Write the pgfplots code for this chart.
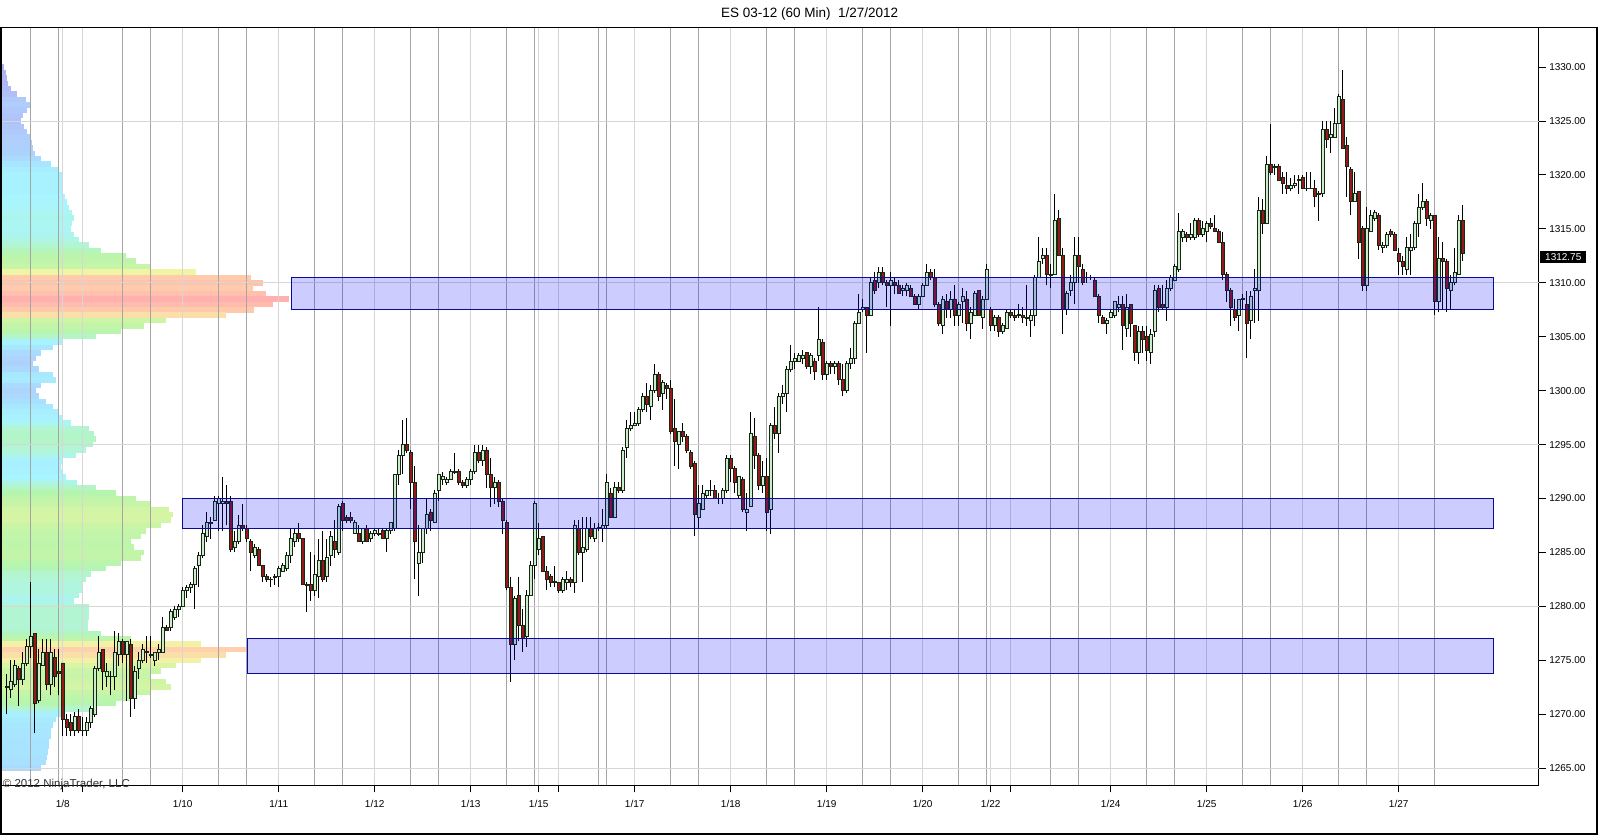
\documentclass[border=0pt]{standalone}
\usepackage{fontspec}
\setmainfont{Liberation Sans}
\usepackage{pgfplots}
\pgfplotsset{compat=1.18}
\usepackage{pgfplotstable}
\definecolor{upfill}{RGB}{205,236,205}
\definecolor{dnfill}{RGB}{150,24,24}
\definecolor{cout}{RGB}{20,40,20}
\definecolor{gridlight}{RGB}{214,214,214}
\definecolor{griddark}{RGB}{165,165,165}
\definecolor{rectline}{RGB}{10,10,150}
\pgfplotstableread{
o h l c
1272.5 1273.75 1270 1272.5
1272.25 1275 1271.5 1273
1272.75 1275 1272.5 1274.5
1274.25 1274.5 1270.75 1273.25
1273.25 1275.75 1272.75 1274.75
1274.75 1277 1274.5 1276.25
1276.25 1282.25 1275.25 1277.25
1277.5 1277.5 1268.25 1271
1271.25 1276 1271 1274.75
1274.5 1277 1274.5 1275.75
1275.75 1277 1272.25 1272.75
1272.75 1277 1271.75 1275.75
1275.25 1276 1272.5 1273.5
1274 1276 1271.75 1273.75
1274.75 1274.75 1268 1269.5
1269.5 1270 1268 1268.75
1269.25 1270 1268 1268.5
1268.5 1270.25 1268 1269.75
1269.75 1270.5 1268.25 1268.5
1268.5 1269.75 1268 1268.5
1268.5 1269.75 1268 1269.25
1269.25 1270.75 1268.75 1270.5
1270 1274.5 1269.75 1274.25
1274.25 1277.25 1274 1275.75
1276 1276 1272.25 1274
1273.5 1274.75 1272.5 1274
1273.5 1274 1271.75 1273.5
1273.5 1277.75 1272.25 1275.75
1275.5 1277.5 1274.5 1276.75
1276.75 1277 1274.75 1275.5
1275.5 1276.75 1271.25 1276.75
1276.5 1277 1269.75 1271.5
1271.5 1274.5 1270.5 1274
1274.25 1275.75 1273.25 1275
1275 1276.5 1274.75 1276
1275.75 1277.25 1274.75 1275.75
1275.5 1277.25 1275.25 1275.5
1275 1275.75 1274.5 1275.75
1275.75 1276.5 1275 1276
1275.75 1279 1275.75 1278
1278 1278.25 1277.75 1277.75
1278 1279.75 1277.75 1279.5
1279 1280 1278.75 1279.75
1279.75 1280.25 1279 1280
1280 1281.75 1280 1281.5
1281.5 1282 1280.75 1281.75
1281.75 1282.25 1281.25 1282
1282 1283.75 1279.75 1283.5
1283.75 1285 1281.75 1284.75
1284.75 1287.5 1284.5 1286.75
1286.5 1288.75 1286 1287.75
1287.75 1288.25 1286.25 1287.75
1288 1290.25 1288 1289.75
1289.5 1290.25 1287 1290
1289.5 1292 1287 1289.75
1289.75 1291.25 1287.5 1289.5
1289.75 1290.25 1285 1285.25
1285.5 1287 1285 1286
1286 1288.5 1285.75 1287.5
1287.5 1289.5 1287 1287.25
1287.25 1287.5 1286 1286.25
1286 1286.25 1283.25 1285
1284.75 1285.75 1284.5 1285.5
1285.25 1285.5 1283.75 1283.75
1283.75 1283.75 1282.25 1282.75
1282.75 1283 1282.25 1282.5
1282.5 1282.75 1281.75 1282.5
1282.75 1283 1282 1282.75
1282.75 1283.75 1281.75 1283.5
1283.25 1284 1283.25 1283.75
1283.5 1285 1283.25 1284.75
1284.75 1287.25 1284 1286.25
1286 1287.25 1285.5 1286.75
1286.75 1287.75 1286 1286.25
1286.25 1286.25 1282 1282
1282 1282.25 1279.5 1282
1282 1285 1280.5 1281.5
1281.5 1284.75 1281 1283
1282.75 1286.25 1280.75 1284.25
1284.25 1287 1282.25 1282.5
1282.75 1286.25 1282.25 1284.5
1284.75 1287 1283.75 1286.5
1286 1288 1284.5 1285.25
1285 1289.5 1284.75 1289.25
1289.5 1289.75 1287 1288
1288.25 1288.5 1287.75 1288
1288.25 1288.75 1287.75 1288
1286.75 1288 1286.75 1287.75
1286.75 1287.5 1286 1286
1286 1287.25 1285.75 1287.25
1287.25 1287.5 1286 1286
1286.25 1287 1286 1286.75
1286.75 1287.25 1286.5 1287
1286.75 1287.25 1286.5 1286.75
1287 1287.25 1286.25 1286.25
1286.25 1287.25 1285 1287
1287 1287.75 1286.75 1287.75
1287.25 1292.25 1287 1292.25
1292.25 1294.5 1291.25 1294
1294 1297.25 1292.25 1295
1295 1297.5 1294.25 1294.5
1294.25 1294.5 1289 1291.5
1291.5 1293 1282.5 1286
1284 1287.5 1281 1285
1285 1287.25 1284 1287.25
1287.25 1290 1286.75 1288.5
1288.75 1289 1287 1288
1287.75 1290.75 1287.75 1290.5
1290.75 1292.25 1289.75 1292.25
1291.75 1292.5 1291.25 1292
1291.5 1292 1291.25 1291.75
1291.75 1292.75 1291.75 1292.5
1292.5 1294.25 1292.25 1292.5
1292.5 1292.75 1291.25 1291.5
1291.5 1291.75 1291 1291.25
1291.25 1292 1291 1291.75
1291.75 1292.75 1291.25 1292.5
1292.5 1295 1292.25 1294.25
1294.25 1295 1293.25 1293.5
1293.5 1295 1293 1294.5
1294.5 1294.75 1291 1292.25
1292.25 1293.75 1289.25 1291
1291 1292 1289.5 1291.5
1291.5 1291.75 1289.25 1289.75
1289.75 1290 1286.75 1288
1287.75 1288 1281.5 1281.75
1281.75 1282.75 1273 1276.5
1276.5 1281 1275 1280.75
1281 1282.75 1276.75 1278.25
1278.25 1279.75 1275.75 1277
1277.25 1281.5 1276.25 1281
1281 1284.25 1281 1283.75
1283.75 1289.75 1282.5 1289.5
1285.25 1287.75 1284.75 1286.25
1286.5 1286.5 1283.25 1283.25
1283.25 1283.75 1281.5 1282.5
1282.75 1283 1281.75 1282.25
1282.25 1283.75 1281.75 1282.25
1282.25 1282.25 1281.25 1281.5
1281.5 1282.75 1281.25 1282.5
1282.25 1283.25 1281.5 1282.5
1282.5 1282.75 1281.75 1282.25
1282.25 1288 1281.25 1287.5
1287.25 1288 1284.75 1285
1285 1288.25 1282.25 1285.5
1285.25 1288.25 1285 1287.25
1287.25 1288.25 1286.25 1286.5
1286.25 1287.75 1286 1287.25
1287.25 1287.75 1287 1287.25
1287.25 1289 1286 1287.5
1287.5 1292.25 1287.25 1291.5
1290.5 1291 1288.25 1288.25
1288.25 1291.5 1288.25 1291
1291 1291.5 1290.5 1290.75
1290.75 1294.75 1290.5 1294.5
1294.75 1297.25 1293.75 1296.5
1296.5 1298 1296.25 1296.75
1296.75 1298 1296.75 1297
1297 1298.5 1296.75 1298.25
1298.25 1299.75 1298 1299.5
1299.5 1300.75 1298 1298.75
1298.5 1300.5 1297.25 1300
1300 1302.5 1299.75 1301.5
1301.5 1301.75 1299 1299.5
1299.75 1301 1298.25 1300.75
1300.5 1300.75 1299.25 1300.25
1300.25 1301 1296 1296.25
1296.5 1299.25 1293 1295.25
1295 1296.25 1292.75 1296.25
1296.25 1297 1295.25 1295.75
1295.75 1296 1294.25 1294.5
1294.25 1294.5 1292.75 1293
1293.25 1293.5 1286.5 1288.5
1288.25 1291.25 1287.25 1289.5
1289 1291.25 1289 1290.5
1290.25 1290.75 1290 1290.75
1290.75 1291.75 1290.25 1290.75
1290.75 1291.25 1290 1290
1290 1290.5 1289.5 1290
1290 1291 1289.5 1290.75
1290.75 1294 1290.5 1293.75
1293.75 1294 1291.5 1292.75
1292.75 1293 1290.5 1291.5
1290.25 1292 1290 1292
1291.75 1292 1288.75 1289
1288.75 1290.5 1287 1289
1289.25 1298 1289.25 1296
1295.75 1297.5 1292.75 1294
1294 1294.25 1290.75 1291.25
1291.25 1293.5 1290.5 1292
1292 1293.75 1287 1288.75
1289 1297 1286.75 1296.75
1296.75 1298.5 1295.5 1296
1296 1299.75 1294.25 1299.5
1299.5 1300.5 1298.75 1299.75
1299.75 1302.25 1298 1302
1302 1304.25 1301.75 1302.75
1302.75 1303.5 1302 1303
1302.75 1303.5 1302.75 1303.25
1303 1303.75 1302.5 1303.25
1303.5 1303.5 1302 1302.25
1302.25 1303.5 1301.5 1303.25
1302.75 1303 1301 1301.75
1303.25 1307.75 1302.75 1304.75
1304.5 1304.75 1301 1301.5
1301.5 1302.75 1301 1302.5
1302.5 1302.75 1301.5 1302.25
1302.25 1302.75 1301.5 1302.5
1302.5 1302.75 1300.5 1301
1301 1302.5 1299.5 1300
1300 1302.75 1299.75 1302.5
1302.5 1304 1302 1303
1303 1306.5 1302.5 1306.25
1306.25 1309 1306.25 1307.25
1307.5 1308.5 1307.25 1307.75
1307.75 1307.75 1303.5 1307
1307 1310.5 1307 1310
1310.25 1311 1309 1309.25
1310 1311.5 1309.5 1311
1311 1311.5 1309.75 1310
1310 1310.25 1307.75 1309.75
1309.75 1311 1306 1310.25
1310 1310.5 1309 1309.75
1309.75 1310.25 1309 1309
1309.25 1309.75 1308.75 1309.5
1309.25 1310 1308.75 1309.75
1309.5 1309.75 1308.75 1308.75
1308.75 1309 1308 1308
1308 1309 1307.5 1308.75
1308.75 1310 1308.75 1309.75
1309.75 1311.75 1309.75 1311
1311 1311.25 1310.25 1310.5
1310.5 1311.25 1307.75 1308
1308 1308.25 1306 1306.25
1306 1308.75 1305.25 1308.5
1308.25 1309 1306.75 1307.5
1307.5 1309.25 1306.75 1308.5
1308.5 1309.75 1306 1307
1307 1308.25 1306 1308
1308.25 1309.5 1306.25 1308.75
1308.5 1309.25 1305.5 1306.25
1306.25 1307.75 1304.75 1307.25
1307 1309.25 1307 1309
1309.25 1309.25 1307 1307
1306.75 1308.75 1305.75 1308.5
1308.5 1311.75 1308.5 1311.25
1307.5 1307.75 1305.5 1306
1306 1307 1305.5 1306.75
1306.75 1307 1305 1305.5
1305.5 1306.25 1305.25 1306
1305.75 1307.5 1305.75 1307.25
1307.25 1307.5 1306.75 1307
1307 1307.5 1306.5 1306.75
1307 1308 1306.75 1307
1307 1307.75 1306.25 1306.75
1306.75 1309.75 1306 1306.75
1306.5 1307.5 1305 1307
1307 1310.75 1306 1310.5
1310.5 1314.25 1310.5 1312
1312.25 1313.25 1311.75 1312.5
1312.5 1313.25 1309.75 1310.75
1310.75 1311.75 1309.5 1310.75
1310.75 1318.25 1310.75 1315.75
1316 1316.75 1312.5 1312.5
1312.5 1313.25 1305.25 1307.5
1307.5 1309.25 1307 1309
1309.25 1310.75 1308.75 1310
1310 1314.25 1308 1312.5
1312.5 1314.25 1310 1311.5
1311.25 1311.75 1309.75 1310
1310.5 1311 1310 1310.5
1310.5 1310.75 1310.25 1310.5
1310.25 1310.5 1308.75 1308.75
1308.75 1309 1306.25 1307
1306.75 1307 1306.25 1306.25
1306.25 1306.75 1305.25 1306.5
1306.75 1307.5 1306.75 1307.25
1307 1308.25 1306.75 1308.25
1307.75 1308.75 1307.25 1308
1308 1308.75 1303.75 1306
1305.75 1309 1305 1307.75
1308 1308 1305 1306.25
1306 1306 1302.75 1303.5
1303.5 1306 1302.5 1305.5
1305.5 1306 1303.5 1304.75
1305 1306 1302.75 1303.75
1303.5 1305.75 1302.5 1305.25
1305.5 1309.75 1305 1309.25
1309.5 1309.75 1307.25 1307.75
1308 1309.75 1307.5 1307.75
1307.75 1310.25 1306.5 1309.5
1309.5 1310.75 1309.25 1310.5
1310.25 1311.75 1310.25 1311.5
1311.25 1316.5 1311 1314.75
1314.25 1315 1313.75 1314.75
1314.5 1314.75 1313.75 1314.25
1314.25 1315.5 1314 1314.5
1314.25 1316 1314 1315.75
1315.75 1316 1314.25 1314.5
1314.5 1315.75 1314.25 1315
1314.75 1315.75 1313.75 1315.5
1315.5 1316 1315 1315.25
1315 1316.25 1314.75 1314.75
1314.75 1315 1313.75 1313.75
1313.75 1314.75 1310.25 1310.75
1310.75 1311 1308.25 1309.25
1309.25 1309.5 1306 1307.75
1307.5 1308.5 1306.5 1306.75
1307 1308.5 1305.5 1308.5
1308.5 1309 1307.5 1308.5
1308 1309.25 1303 1306.25
1306.5 1309.25 1304.75 1308.75
1309.25 1311.25 1306.25 1309.5
1309.25 1318 1306.5 1316.75
1316.75 1317.75 1314.5 1315.5
1315.5 1321.75 1315.5 1321
1321 1324.75 1320 1320.25
1320.75 1321 1320 1320.75
1320.75 1321 1319.5 1319.5
1319.75 1320.25 1318.25 1319.25
1319 1320.25 1318.25 1318.75
1318.75 1319.75 1318.5 1319
1319 1320 1318.75 1319.25
1319.5 1320 1318.25 1319.5
1319.75 1320 1318.75 1318.75
1318.75 1320.25 1318.5 1318.75
1318.75 1320.25 1318.75 1318.75
1318.75 1319.5 1317 1318
1318.25 1318.5 1315.75 1318.25
1318.25 1325 1318 1324.25
1324.25 1325 1322.5 1323.25
1323.5 1325 1322 1323.75
1323.5 1326.25 1323.5 1324.75
1324.75 1327.5 1324.75 1327.25
1327 1329.75 1322.5 1322.5
1322.75 1323.5 1318 1320.75
1320.5 1320.75 1316.25 1317.5
1317.5 1320.25 1317.5 1318.25
1318.5 1318.5 1312.25 1313.75
1315 1315.25 1309.25 1309.75
1309.75 1317 1309.25 1315
1314.75 1316.75 1314.75 1316.25
1316 1316.75 1315.75 1316.5
1316.25 1316.5 1313 1313.5
1313.25 1313.75 1312.75 1313.5
1313.5 1314.75 1313.25 1314.5
1314.75 1315 1314.25 1314.5
1314.5 1314.75 1313 1313
1312.75 1313.25 1310.75 1312
1312 1312.5 1310.75 1311.5
1311.25 1314.25 1310.75 1313.25
1313 1314.5 1310.75 1313.25
1313.25 1315.75 1313 1315.5
1315.5 1318.25 1314.25 1317
1317 1319.25 1316.75 1317.5
1317.5 1317.75 1315.25 1316
1315.75 1316.5 1315 1316.25
1316.25 1316.25 1307 1308.25
1308.25 1314.25 1307.25 1312.25
1312.25 1313.75 1307.5 1312
1312 1312.25 1307.25 1309.5
1309.25 1310.75 1307.5 1310
1310 1313.25 1309.75 1311
1310.75 1316.25 1310.75 1315.75
1315.75 1317.25 1312 1312.75
}\candles
\pgfplotstableread{
p w
1330.5 1
1330.0 3
1329.5 5
1329.0 6
1328.5 7
1328.0 10
1327.5 16
1327.0 25
1326.5 30
1326.0 26
1325.5 22
1325.0 20
1324.5 23
1324.0 26
1323.5 29
1323.0 31
1322.5 32
1322.0 34
1321.5 40
1321.0 50
1320.5 57
1320.0 61
1319.5 62
1319.0 61
1318.5 61
1318.0 64
1317.5 66
1317.0 68
1316.5 71
1316.0 73
1315.5 71
1315.0 70
1314.5 73
1314.0 78
1313.5 88
1313.0 100
1312.5 125
1312.0 135
1311.5 150
1311.0 195
1310.5 250
1310.0 262
1309.5 252
1309.0 265
1308.5 288
1308.0 272
1307.5 253
1307.0 225
1306.5 165
1306.0 143
1305.5 120
1305.0 95
1304.5 62
1304.0 52
1303.5 40
1303.0 35
1302.5 32
1302.0 38
1301.5 52
1301.0 55
1300.5 40
1300.0 35
1299.5 38
1299.0 45
1298.5 52
1298.0 58
1297.5 62
1297.0 70
1296.5 88
1296.0 93
1295.5 95
1295.0 92
1294.5 85
1294.0 75
1293.5 62
1293.0 60
1292.5 62
1292.0 65
1291.5 76
1291.0 95
1290.5 115
1290.0 135
1289.5 150
1289.0 168
1288.5 172
1288.0 170
1287.5 160
1287.0 145
1286.5 140
1286.0 130
1285.5 133
1285.0 143
1284.5 140
1284.0 120
1283.5 105
1283.0 90
1282.5 85
1282.0 82
1281.5 82
1281.0 78
1280.5 73
1280.0 88
1279.5 88
1279.0 88
1278.5 87
1278.0 87
1277.5 100
1277.0 130
1276.5 200
1276.0 245
1275.5 225
1275.0 200
1274.5 175
1274.0 160
1273.5 150
1273.0 165
1272.5 170
1272.0 150
1271.5 130
1271.0 115
1270.5 90
1270.0 60
1269.5 55
1269.0 52
1268.5 50
1268.0 50
1267.5 48
1267.0 48
1266.5 47
1266.0 46
1265.5 45
1265.0 40
}\profile
% one path for all wicks, one for all up bodies, one for all down bodies, built from the table
\pgfplotstablegetrowsof{\candles}
\pgfmathtruncatemacro{\lastrow}{\pgfplotsretval-1}
\gdef\wickpath{}\gdef\uppath{}\gdef\dnpath{}
\pgfplotsforeachungrouped \i in {0,...,\lastrow}{%
  \pgfplotstablegetelem{\i}{o}\of\candles\let\vo\pgfplotsretval
  \pgfplotstablegetelem{\i}{h}\of\candles\let\vh\pgfplotsretval
  \pgfplotstablegetelem{\i}{l}\of\candles\let\vl\pgfplotsretval
  \pgfplotstablegetelem{\i}{c}\of\candles\let\vc\pgfplotsretval
  \xdef\wickpath{\wickpath (\i,\vl) (\i,\vh) (\i,nan)}%
  \ifdim\vc pt<\vo pt \let\vb\vc \let\vt\vo \def\isup{0}\else \let\vb\vo \let\vt\vc \def\isup{1}\fi
  \pgfmathsetmacro\dd{\vt-\vb}%
  \ifdim\dd pt<0.08pt \pgfmathsetmacro\vt{\vt+0.04}\pgfmathsetmacro\vb{\vb-0.04}\fi
  \pgfmathsetmacro\xa{\i-0.34}\pgfmathsetmacro\xb{\i+0.34}%
  \ifnum\isup=1
    \xdef\uppath{\uppath (\xa,\vb) (\xb,\vb) (\xb,\vt) (\xa,\vt) (\xa,\vb) (\i,nan)}%
  \else
    \xdef\dnpath{\dnpath (\xa,\vb) (\xb,\vb) (\xb,\vt) (\xa,\vt) (\xa,\vb) (\i,nan)}%
  \fi
}
\begin{document}
\begin{tikzpicture}[x=1pt,y=1pt]
\path[use as bounding box] (0,0) rectangle (1600,835);
\fill[white] (0,0) rectangle (1600,835);
% volume profile
\begin{axis}[
  at={(1,46)}, anchor=south west, scale only axis,
  width=1538.3pt, height=757pt,
  xmin=0, xmax=1538.3, ymin=1263.40, ymax=1333.59,
  hide axis,
  colormap={vp}{rgb255(0pt)=(176,176,240); rgb255(25pt)=(176,200,250); rgb255(45pt)=(168,225,255); rgb255(65pt)=(168,245,255); rgb255(85pt)=(178,245,215); rgb255(110pt)=(180,245,175); rgb255(165pt)=(205,245,165); rgb255(195pt)=(240,245,165); rgb255(235pt)=(255,215,170); rgb255(290pt)=(255,175,175)},
  point meta min=0, point meta max=290,
]
\addplot[point meta=\thisrow{w},
  quiver={u=\thisrow{w}, v=0, colored=mapped color,
    every arrow/.append style={line width=5.5pt, line cap=butt}}]
  table[x expr=0, y=p] \profile;
\end{axis}
% main chart
\begin{axis}[
  at={(1,46)}, anchor=south west, scale only axis,
  width=1538.3pt, height=757pt,
  xmin=-1.583, xmax=383.0, ymin=1263.40, ymax=1333.59,
  axis x line*=bottom, axis y line*=right,
  axis line style={black, line width=1pt},
  tick align=outside, major tick length=7pt,
  tick style={black, line width=1pt},
  xtick={14,19,44,68,92,116,133,138,157,181,205,229,246,251,276,300,324,348},
  xticklabels={1/8,{},1/10,1/11,1/12,1/13,1/15,{},1/17,1/18,1/19,1/20,1/22,{},1/24,1/25,1/26,1/27},
  xmajorgrids, major grid style={draw=gridlight, line width=1pt},
  extra x ticks={6,13,29,36,53,60,77,84,101,108,125,132,148,150,166,173,190,197,214,221,238,245,261,268,285,292,309,316,333,340,357},
  extra x tick labels={},
  extra x tick style={grid=major, major grid style={draw=griddark, line width=1pt}, tick style={draw=none}},
  ytick={1265,1270,...,1330},
  scaled y ticks=false,
  extra y ticks={1265,1280,1295,1310,1325},
  extra y tick labels={},
  extra y tick style={grid=major, major grid style={draw=gridlight, line width=1pt}, tick style={draw=none}},
  ticklabel style={font=\fontsize{10}{12}\selectfont},
  yticklabel style={anchor=west, /pgf/number format/fixed, /pgf/number format/fixed zerofill, /pgf/number format/precision=2, /pgf/number format/1000 sep={}, /pgf/number format/assume math mode=true},
  xticklabel style={anchor=north, yshift=-4pt},
  unbounded coords=jump,
]
\edef\tmpplot{\noexpand\addplot[black, line width=1pt, line cap=butt] coordinates {\wickpath};}\tmpplot
\edef\tmpplot{\noexpand\addplot[draw=cout, fill=upfill, line width=0.9pt] coordinates {\uppath};}\tmpplot
\edef\tmpplot{\noexpand\addplot[draw=cout, fill=dnfill, line width=0.9pt] coordinates {\dnpath};}\tmpplot
% zones
\draw[draw=rectline, line width=1pt, fill=blue, fill opacity=0.2] (axis cs:71.09,1307.5) rectangle (axis cs:371.67,1310.5);
\draw[draw=rectline, line width=1pt, fill=blue, fill opacity=0.2] (axis cs:44.0,1287.25) rectangle (axis cs:371.67,1290);
\draw[draw=rectline, line width=1pt, fill=blue, fill opacity=0.2] (axis cs:60.17,1273.75) rectangle (axis cs:371.67,1277);
\end{axis}
% last price marker
\node[anchor=west, fill=black, text=white, inner xsep=5pt, inner ysep=2.5pt, font=\fontsize{10}{12}\selectfont] at (1540,578.2) {1312.75};
% title and copyright
\node[font=\fontsize{13.5}{16}\selectfont] at (809.7,820.8) {ES 03-12 (60 Min)\ \ 1/27/2012};
\node[anchor=west, inner sep=0pt, text=black!80, font=\fontsize{11.5}{13}\selectfont] at (2.7,50.5) {© 2012 NinjaTrader, LLC};
% outer frame
\draw[black, line width=1.5pt] (0.75,1) rectangle (1597,807.7);
\end{tikzpicture}
\end{document}
